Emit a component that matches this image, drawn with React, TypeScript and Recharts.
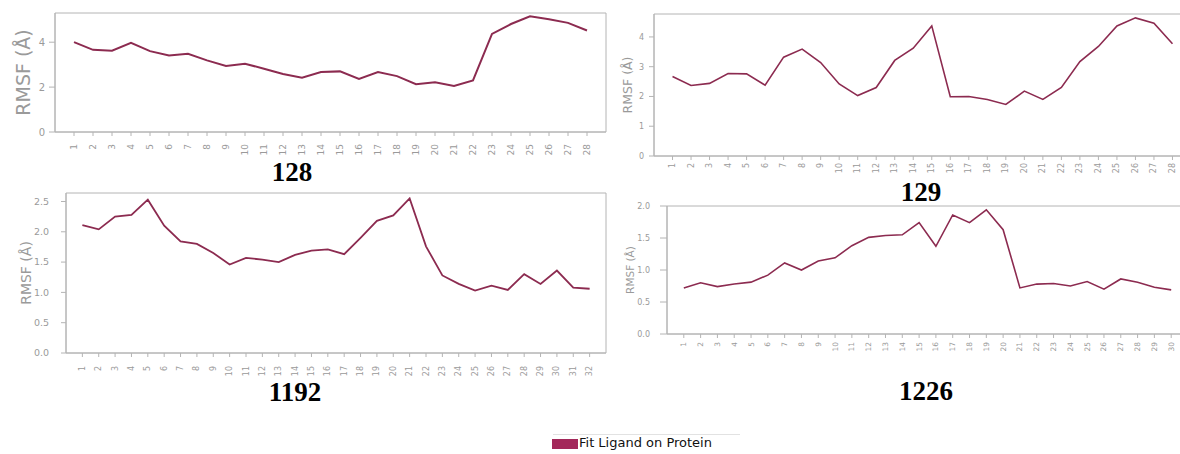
import React from 'react';
import { LineChart, Line, XAxis, YAxis, ReferenceArea } from 'recharts';

// residue indices and RMSF values
const res128 = [1, 2, 3, 4, 5, 6, 7, 8, 9, 10, 11, 12, 13, 14, 15, 16, 17, 18, 19, 20, 21, 22, 23, 24, 25, 26, 27, 28];
const rmsf128 = [4.0, 3.66, 3.62, 3.97, 3.6, 3.41, 3.48, 3.19, 2.94, 3.04, 2.82, 2.58, 2.42, 2.67, 2.7, 2.36, 2.67, 2.49, 2.13, 2.21, 2.05, 2.3, 4.37, 4.81, 5.15, 5.02, 4.86, 4.52];

const res129 = [1, 2, 3, 4, 5, 6, 7, 8, 9, 10, 11, 12, 13, 14, 15, 16, 17, 18, 19, 20, 21, 22, 23, 24, 25, 26, 27, 28];
const rmsf129 = [2.67, 2.37, 2.44, 2.77, 2.76, 2.38, 3.32, 3.59, 3.14, 2.42, 2.03, 2.3, 3.21, 3.62, 4.37, 1.99, 2.0, 1.9, 1.73, 2.18, 1.9, 2.3, 3.17, 3.68, 4.37, 4.64, 4.46, 3.77];

const res1192 = [1, 2, 3, 4, 5, 6, 7, 8, 9, 10, 11, 12, 13, 14, 15, 16, 17, 18, 19, 20, 21, 22, 23, 24, 25, 26, 27, 28, 29, 30, 31, 32];
const rmsf1192 = [2.11, 2.04, 2.25, 2.28, 2.53, 2.1, 1.84, 1.8, 1.65, 1.46, 1.57, 1.54, 1.5, 1.62, 1.69, 1.71, 1.63, 1.9, 2.18, 2.27, 2.55, 1.76, 1.28, 1.14, 1.03, 1.11, 1.04, 1.3, 1.14, 1.36, 1.08, 1.06];

const res1226 = [1, 2, 3, 4, 5, 6, 7, 8, 9, 10, 11, 12, 13, 14, 15, 16, 17, 18, 19, 20, 21, 22, 23, 24, 25, 26, 27, 28, 29, 30];
const rmsf1226 = [0.72, 0.8, 0.74, 0.78, 0.81, 0.92, 1.11, 1.0, 1.14, 1.19, 1.38, 1.51, 1.54, 1.55, 1.74, 1.37, 1.86, 1.74, 1.94, 1.63, 0.72, 0.78, 0.79, 0.75, 0.82, 0.7, 0.86, 0.81, 0.73, 0.69];

const yTicks128 = [0, 2, 4];
const yTicks129 = [0, 1, 2, 3, 4];
const yTicks1192 = [0, 0.5, 1.0, 1.5, 2.0, 2.5];
const yTicks1226 = [0, 0.5, 1.0, 1.5, 2.0];

const LINE = '#8c2b50';
const GREY = '#9a9a9a';
const FRAME = '#b4b4b4';
const SANS = '"DejaVu Sans", sans-serif';

const panels = [
  { name: '128', res: res128, vals: rmsf128, yMax: 5.3, yTicks: yTicks128, dec: 0,
    left: 0, top: 8, yw: 55, plotW: 551, plotH: 119, xMargin: 8, ySize: 6, yMargin: 4,
    yFont: 10, xFont: 9, titleX: 23, titleSize: 19, stroke: 2 },
  { name: '129', res: res129, vals: rmsf129, yMax: 4.77, yTicks: yTicks129, dec: 0,
    left: 610, top: 9, yw: 44, plotW: 537, plotH: 142, xMargin: 3, ySize: 5, yMargin: 5,
    yFont: 8, xFont: 8, titleX: 17, titleSize: 12.5, stroke: 1.6 },
  { name: '1192', res: res1192, vals: rmsf1192, yMax: 2.64, yTicks: yTicks1192, dec: 1,
    left: 0, top: 188, yw: 66, plotW: 540, plotH: 160, xMargin: 9, ySize: 5, yMargin: 12,
    yFont: 9.5, xFont: 8, titleX: 26, titleSize: 14, stroke: 1.8 },
  { name: '1226', res: res1226, vals: rmsf1226, yMax: 2.0, yTicks: yTicks1226, dec: 1,
    left: 610, top: 201, yw: 57, plotW: 521, plotH: 128, xMargin: 4, ySize: 7, yMargin: 10,
    yFont: 8, xFont: 7.5, titleX: 20, titleSize: 10.5, stroke: 1.6 },
];

const captions = [
  { text: '128', x: 292, top: 159 },
  { text: '129', x: 921, top: 179 },
  { text: '1192', x: 295, top: 379 },
  { text: '1226', x: 926, top: 378 },
];

function XTick(props: any) {
  const { x, y, payload, fs } = props;
  return (
    <text x={x} y={y} transform={`rotate(-90 ${x} ${y})`} textAnchor="end" dominantBaseline="central"
      fontSize={fs} fontFamily={SANS} fill={GREY}>
      {payload.value}
    </text>
  );
}

function Panel({ p }: { p: any }) {
  const data = p.res.map((r: number, i: number) => ({ res: r, rmsf: p.vals[i] }));
  const n = p.res.length;
  const mTop = 5;
  const mRight = 5;
  const xh = 30;
  const width = p.yw + p.plotW + mRight;
  const height = mTop + p.plotH + xh;
  return (
    <div style={{ position: 'absolute', left: p.left, top: p.top }}>
      <LineChart width={width} height={height} data={data} margin={{ top: mTop, right: mRight, bottom: 0, left: 0 }}>
        <ReferenceArea x1={0} x2={n + 1} y1={0} y2={p.yMax} fill="none" stroke={FRAME} strokeWidth={1} />
        <XAxis type="number" dataKey="res" domain={[0, n + 1]} ticks={p.res} interval={0} height={xh}
          axisLine={{ stroke: FRAME }} tickLine={{ stroke: FRAME }} tickSize={4} tickMargin={p.xMargin}
          tick={<XTick fs={p.xFont} />} />
        <YAxis type="number" domain={[0, p.yMax]} ticks={p.yTicks} width={p.yw} interval={0}
          axisLine={{ stroke: FRAME }} tickLine={{ stroke: FRAME }} tickSize={p.ySize} tickMargin={p.yMargin}
          tick={{ fontSize: p.yFont, fontFamily: SANS, fill: GREY }}
          tickFormatter={(v: number) => v.toFixed(p.dec)}
          label={{
            content: (lp: any) => {
              const vb = lp.viewBox || { x: 0, y: mTop, height: p.plotH };
              const cx = vb.x + p.titleX;
              const cy = vb.y + vb.height / 2;
              return (
                <text x={cx} y={cy} transform={`rotate(-90 ${cx} ${cy})`} textAnchor="middle"
                  dominantBaseline="central" fontSize={p.titleSize} fontFamily={SANS} fill={GREY}>
                  RMSF (Å)
                </text>
              );
            },
          }} />
        <Line type="linear" dataKey="rmsf" stroke={LINE} strokeWidth={p.stroke} dot={false} isAnimationActive={false} />
      </LineChart>
    </div>
  );
}

export default function App() {
  return (
    <div style={{ position: 'absolute', left: 0, top: 0, width: 1180, height: 454, overflow: 'hidden', background: '#fff' }}>
      {panels.map((p) => <Panel key={p.name} p={p} />)}
      {captions.map((c) => (
        <div key={c.text} style={{
          position: 'absolute', left: c.x, top: c.top, transform: 'translateX(-50%)',
          fontFamily: '"Liberation Serif", serif', fontWeight: 'bold', fontSize: 27, lineHeight: 1, color: '#000',
        }}>{c.text}</div>
      ))}
      {/* legend */}
      <div style={{ position: 'absolute', left: 553, top: 434, width: 187, height: 1, background: '#e2e2e2' }} />
      <div style={{ position: 'absolute', left: 552, top: 439, width: 26, height: 10, background: '#a3285a' }} />
      <div style={{ position: 'absolute', left: 579, top: 436, fontFamily: SANS, fontSize: 13, lineHeight: 1, color: '#111' }}>
        Fit Ligand on Protein
      </div>
    </div>
  );
}
